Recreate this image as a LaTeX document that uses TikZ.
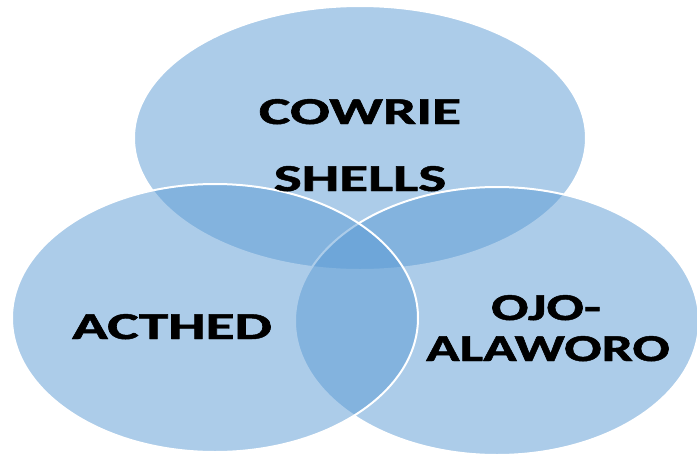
\documentclass[tikz,border=0pt]{standalone}
\usepackage{fontspec}
\setmainfont{Carlito}[BoldFeatures={FakeBold=1.2}]
\definecolor{vennblue}{HTML}{5B9BD5}
\tikzset{
  venn/.style={fill=vennblue,fill opacity=0.5,draw=white,line width=2pt},
  lbl/.style={font=\bfseries\fontsize{38}{38}\selectfont,text=black,inner sep=0pt,anchor=base},
}
\newcommand{\wide}[1]{\scalebox{1.56}[1]{#1}}
\begin{document}
\begin{tikzpicture}[x=1pt,y=-1pt]
\useasboundingbox[fill=white] (0,0) rectangle (697,456);
\path[venn] (360,138) ellipse [x radius=226, y radius=132];
\path[venn] (497,321) ellipse [x radius=202, y radius=134];
\path[venn] (215,318) ellipse [x radius=203, y radius=134];
\node[lbl] (cowrie) at (360,124) {\wide{COWRIE}};
\node[lbl] (shells) at (360,191) {\wide{SHELLS}};
\node[lbl] (acthed) at (172,339) {\wide{ACTHED}};
\node[lbl] (ojo) at (546,320) {\scalebox{1.46}[1]{OJO-}};
\node[lbl] (alaworo) at (548,361) {\scalebox{1.46}[1]{ALAWORO}};
\end{tikzpicture}
\end{document}
